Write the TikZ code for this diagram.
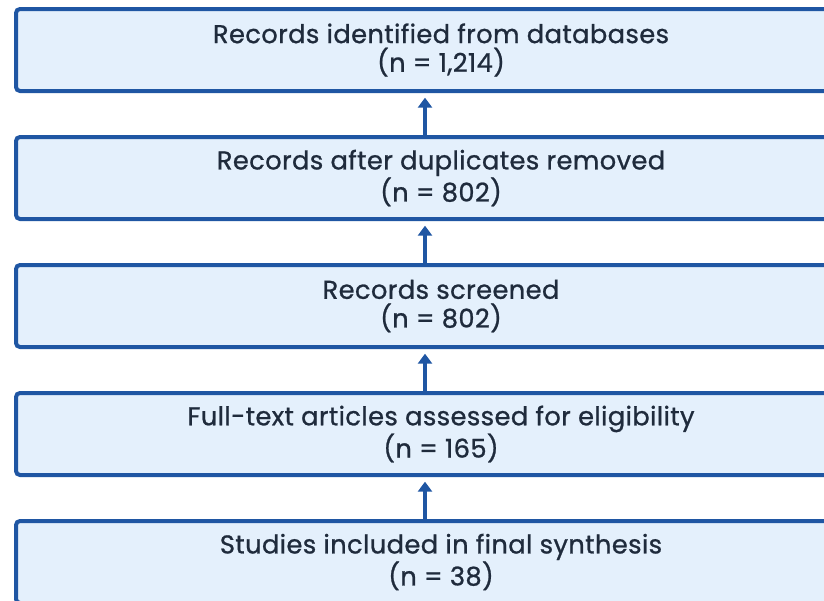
\documentclass[tikz,border=0pt]{standalone}
\usepackage{fontspec}
\setmainfont{Poppins}[FakeBold=0.9, LetterSpace=1.5]
\usetikzlibrary{arrows.meta}
\definecolor{boxfill}{HTML}{E4F0FC}
\definecolor{boxline}{HTML}{1F56A3}
\definecolor{txt}{HTML}{1F2B3C}
\tikzset{
  stage/.style={draw=boxline, fill=boxfill, line width=3pt, rounded corners=3pt,
    minimum width=637.5pt, minimum height=61.5pt, align=center, text=txt,
    font=\fontsize{19.3}{21.5}\selectfont, inner sep=0pt},
  uparrow/.style={draw=boxline, line width=3pt,
    -{Triangle[width=10.5pt,length=7.5pt]}, shorten >=3.5pt}
}
\begin{document}
\begin{tikzpicture}[x=0.75pt,y=-0.75pt]
\useasboundingbox (0,0) rectangle (824,600);
\clip (0,0) rectangle (824,600);
\node[stage] (b1) at (441,50) {Records identified from databases\\(n = 1,214)};
\node[stage] (b2) at (441,178) {Records after duplicates removed\\(n = 802)};
\node[stage] (b3) at (441,306) {Records screened\\(n = 802)};
\node[stage] (b4) at (441,434) {Full-text articles assessed for eligibility\\(n = 165)};
\node[stage] (b5) at (441,562) {Studies included in final synthesis\\(n = 38)};
\draw[uparrow] ([xshift=-12pt]b2.north) -- ([xshift=-12pt]b1.south);
\draw[uparrow] ([xshift=-12pt]b3.north) -- ([xshift=-12pt]b2.south);
\draw[uparrow] ([xshift=-12pt]b4.north) -- ([xshift=-12pt]b3.south);
\draw[uparrow] ([xshift=-12pt]b5.north) -- ([xshift=-12pt]b4.south);
\end{tikzpicture}
\end{document}
